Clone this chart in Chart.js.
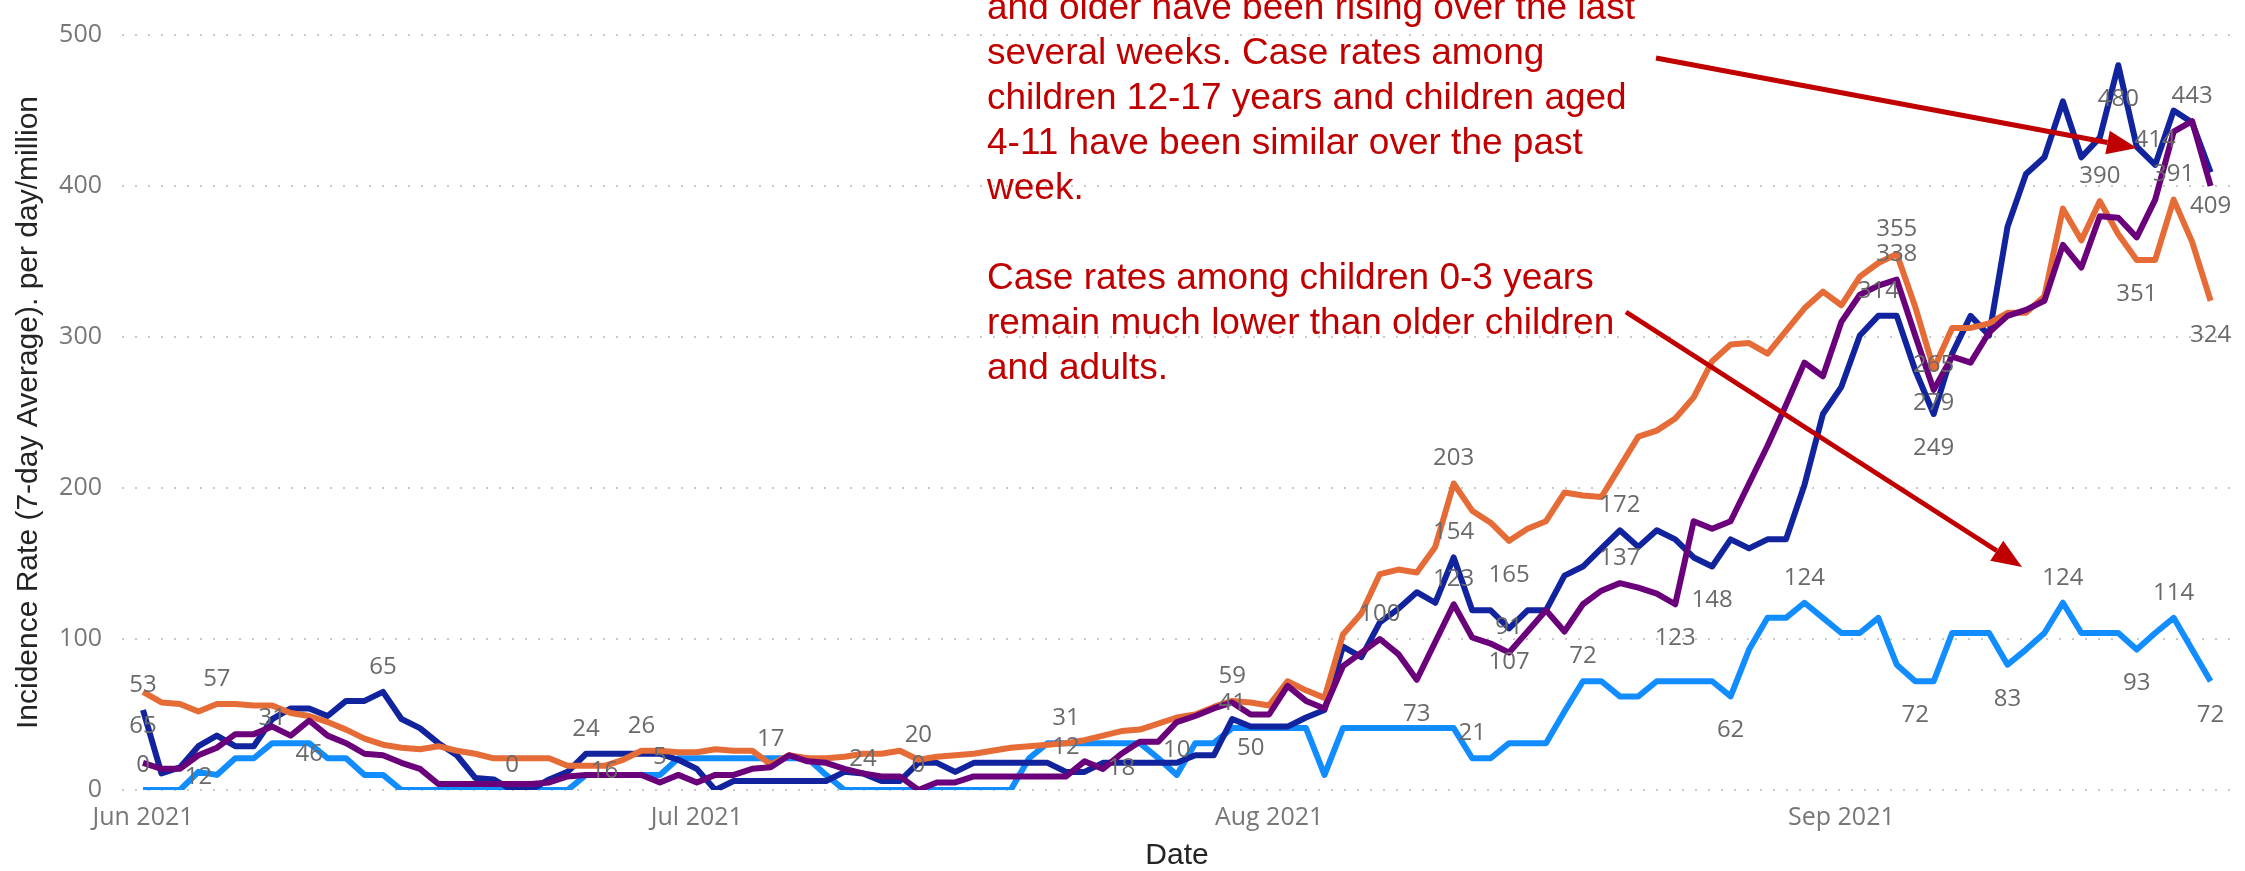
<!DOCTYPE html>
<html>
<head>
<meta charset="utf-8">
<title>Incidence rate by age group</title>
<script src="https://cdn.jsdelivr.net/npm/chart.js@4.4.0/dist/chart.umd.min.js"></script>
<style>
  html, body { margin: 0; padding: 0; background: #fff; overflow: hidden; }
  #wrap { position: relative; width: 2245px; height: 871px; }
  #note {
    position: absolute; left: 987px; top: -16px;
    font: 37px/45px 'Liberation Sans', Arial, sans-serif;
    color: #C00000; white-space: nowrap;
  }
</style>
</head>
<body>
<div id="wrap">
  <canvas id="chart"></canvas>
  <div id="note">and older have been rising over the last<br>several weeks. Case rates among<br>children 12-17 years and children aged<br>4-11 have been similar over the past<br>week.<br><br>Case rates among children 0-3 years<br>remain much lower than older children<br>and adults.</div>
</div>
<script>
  'use strict';

  // ── Data (one value per day, 1 Jun 2021 .. 21 Sep 2021) ──────────

  var monthTickDays   = [0, 30, 61, 92];
  var monthTickLabels = ['Jun 2021', 'Jul 2021', 'Aug 2021', 'Sep 2021'];
  var yTicks = [0, 100, 200, 300, 400, 500];

  var age18plus = [
    65, 58, 57, 52, 57, 57, 56, 56, 51, 49,
    45, 40, 34, 30, 28, 27, 29, 26, 24, 21,
    21, 21, 21, 16, 16, 16, 20, 26, 26, 25,
    25, 27, 26, 26, 17, 23, 21, 21, 22, 24,
    24, 26, 20, 22, 23, 24, 26, 28, 29, 30,
    31, 33, 36, 39, 40, 44, 48, 50, 55, 59,
    58, 56, 72, 66, 61, 103, 117, 143, 146, 144,
    161, 203, 185, 177, 165, 173, 178, 197, 195, 194,
    214, 234, 238, 246, 260, 284, 295, 296, 289, 304,
    319, 330, 321, 340, 349, 355, 320, 279, 306, 306,
    309, 316, 316, 327, 385, 364, 390, 368, 351, 351,
    391, 363, 324
  ];

  var age12to17 = [
    53, 11, 15, 29, 36, 29, 29, 47, 54, 54,
    49, 59, 59, 65, 47, 41, 31, 23, 8, 7,
    0, 0, 7, 12, 24, 24, 24, 24, 24, 20,
    14, 0, 6, 6, 6, 6, 6, 6, 12, 11,
    6, 6, 18, 18, 12, 18, 18, 18, 18, 18,
    12, 12, 18, 18, 18, 18, 18, 23, 23, 47,
    42, 42, 42, 48, 53, 95, 88, 111, 120, 131,
    124, 154, 119, 119, 107, 119, 119, 142, 148, 160,
    172, 161, 172, 166, 154, 148, 166, 160, 166, 166,
    202, 249, 267, 301, 314, 314, 278, 249, 289, 314,
    301, 373, 408, 419, 456, 419, 432, 480, 426, 414,
    450, 442, 409
  ];

  var age4to11 = [
    18, 14, 14, 23, 28, 37, 37, 42, 36, 46,
    36, 31, 24, 23, 18, 14, 4, 4, 4, 4,
    4, 4, 5, 9, 10, 10, 10, 10, 5, 10,
    5, 10, 10, 14, 15, 23, 19, 18, 14, 11,
    9, 9, 0, 5, 5, 9, 9, 9, 9, 9,
    9, 19, 14, 24, 32, 32, 45, 49, 54, 58,
    50, 50, 69, 59, 54, 82, 91, 100, 90, 73,
    98, 123, 101, 97, 91, 105, 119, 105, 123, 132,
    137, 134, 130, 123, 178, 173, 178, 203, 228, 255,
    283, 274, 310, 328, 334, 338, 301, 265, 287, 283,
    303, 314, 318, 324, 361, 346, 380, 379, 366, 391,
    436, 443, 400
  ];

  var age0to3 = [
    0, 0, 0, 12, 10, 21, 21, 31, 31, 31,
    21, 21, 10, 10, 0, 0, 0, 0, 0, 0,
    0, 0, 0, 0, 10, 10, 10, 10, 10, 21,
    21, 21, 21, 21, 21, 21, 21, 10, 0, 0,
    0, 0, 0, 0, 0, 0, 0, 0, 21, 31,
    31, 31, 31, 31, 31, 21, 10, 31, 31, 41,
    41, 41, 41, 41, 10, 41, 41, 41, 41, 41,
    41, 41, 21, 21, 31, 31, 31, 52, 72, 72,
    62, 62, 72, 72, 72, 72, 62, 93, 114, 114,
    124, 114, 104, 104, 114, 83, 72, 72, 104, 104,
    104, 83, 93, 104, 124, 104, 104, 104, 93, 104,
    114, 93, 72
  ];

  // Data labels shown on the chart: series, day, placement (a=above, b=below, c=on line)
  var labelSeries = [
    '12-17', '18+', '0-3', '18+', '0-3', '0-3', '4-11', '12-17', '12-17', '12-17',
    '18+', '18+', '4-11', '18+', '18+', '18+', '4-11', '12-17', '18+', '12-17',
    '0-3', '18+', '0-3', '4-11', '4-11', '4-11', '18+', '12-17', '4-11', '0-3',
    '18+', '4-11', '12-17', '0-3', '4-11', '12-17', '4-11', '12-17', '0-3', '0-3',
    '12-17', '18+', '4-11', '0-3', '4-11', '18+', '12-17', '0-3', '0-3', '18+',
    '12-17', '18+', '0-3', '12-17', '18+', '0-3', '4-11', '12-17', '18+', '0-3'
  ];
  var labelDays = [
    0, 0, 0, 4, 3, 7, 9, 13, 20, 24,
    25, 27, 28, 34, 39, 42, 42, 50, 50, 53,
    56, 59, 59, 60, 67, 69, 71, 71, 71, 72,
    74, 74, 74, 78, 80, 80, 83, 85, 86, 90,
    94, 95, 95, 96, 97, 97, 97, 101, 104, 106,
    107, 108, 108, 109, 110, 110, 111, 112, 112, 112
  ];
  var labelPlaces = [
    'a', 'b', 'a', 'a', 'c', 'a', 'b', 'a', 'a', 'a',
    'c', 'a', 'a', 'a', 'c', 'a', 'a', 'a', 'a', 'c',
    'a', 'a', 'a', 'b', 'a', 'b', 'a', 'a', 'a', 'a',
    'b', 'a', 'b', 'a', 'a', 'a', 'b', 'b', 'b', 'a',
    'a', 'a', 'a', 'b', 'a', 'b', 'b', 'b', 'a', 'a',
    'b', 'b', 'b', 'a', 'a', 'a', 'a', 'b', 'b', 'b'
  ];

  // ── Styles ────────────────────────────────────────────────────────

  var ORANGE = '#E66C37';
  var NAVY   = '#12239E';
  var PURPLE = '#6B007B';
  var SKY    = '#118DFF';
  var NOTE_RED = '#C00000';

  var TICK_FONT  = { family: "'Segoe UI', 'Open Sans', sans-serif", size: 25 };
  var LABEL_FONT = "24px 'Segoe UI', 'Open Sans', sans-serif";
  var TITLE_FONT = { family: "DIN, 'Liberation Sans', Arial, sans-serif", size: 30, lineHeight: 1 };
  var PLACE_OFFSET = { a: -25, b: 34, c: 5 };

  var seriesByName = { '18+': age18plus, '12-17': age12to17, '4-11': age4to11, '0-3': age0to3 };

  var days = age18plus.map(function (v, i) { return i; });

  // ── Plugins ───────────────────────────────────────────────────────

  var pointLabels = {
    id: 'pointLabels',
    afterDatasetsDraw: function (chart) {
      var ctx = chart.ctx;
      var xs = chart.scales.x, ys = chart.scales.y;
      ctx.save();
      ctx.font = LABEL_FONT;
      ctx.fillStyle = '#6a6a6a';
      ctx.textAlign = 'center';
      ctx.textBaseline = 'middle';
      for (var k = 0; k < labelDays.length; k++) {
        var v = seriesByName[labelSeries[k]][labelDays[k]];
        var px = xs.getPixelForValue(labelDays[k]);
        var py = ys.getPixelForValue(v) + PLACE_OFFSET[labelPlaces[k]];
        ctx.fillText(String(Math.round(v)), px, py);
      }
      ctx.restore();
    }
  };

  function drawArrow(ctx, x1, y1, x2, y2) {
    var ang = Math.atan2(y2 - y1, x2 - x1);
    var head = 30, half = 12;
    var bx = x2 - head * Math.cos(ang), by = y2 - head * Math.sin(ang);
    ctx.beginPath();
    ctx.moveTo(x1, y1);
    ctx.lineTo(bx, by);
    ctx.stroke();
    ctx.beginPath();
    ctx.moveTo(x2, y2);
    ctx.lineTo(bx + half * Math.sin(ang), by - half * Math.cos(ang));
    ctx.lineTo(bx - half * Math.sin(ang), by + half * Math.cos(ang));
    ctx.closePath();
    ctx.fill();
  }

  var noteArrows = {
    id: 'noteArrows',
    afterDraw: function (chart) {
      var ctx = chart.ctx;
      ctx.save();
      ctx.strokeStyle = NOTE_RED;
      ctx.fillStyle = NOTE_RED;
      ctx.lineWidth = 5;
      drawArrow(ctx, 1656, 58, 2137, 148);
      drawArrow(ctx, 1626, 312, 2022, 567);
      ctx.restore();
    }
  };

  // ── Chart ─────────────────────────────────────────────────────────

  function lineSet(label, data, color, order) {
    return {
      label: label,
      data: data,
      borderColor: color,
      backgroundColor: color,
      borderWidth: 6,
      borderJoinStyle: 'round',
      pointRadius: 0,
      tension: 0,
      fill: false,
      order: order
    };
  }

  new Chart(document.getElementById('chart'), {
    type: 'line',
    data: {
      labels: days,
      datasets: [
        lineSet('0-3', age0to3, SKY, 4),
        lineSet('12-17', age12to17, NAVY, 3),
        lineSet('18+', age18plus, ORANGE, 2),
        lineSet('4-11', age4to11, PURPLE, 1)
      ]
    },
    options: {
      responsive: true,
      maintainAspectRatio: false,
      animation: false,
      layout: { padding: { top: 19.5, right: 13, left: 0, bottom: 0 } },
      plugins: {
        legend: { display: false },
        tooltip: { enabled: false }
      },
      scales: {
        x: {
          type: 'linear',
          min: -1.138,
          max: 113.16,
          afterBuildTicks: function (scale) {
            scale.ticks = monthTickDays.map(function (d) { return { value: d }; });
          },
          afterFit: function (scale) { scale.height = 81; },
          ticks: {
            autoSkip: false, maxRotation: 0, padding: 13,
            color: '#777', font: TICK_FONT,
            callback: function (v) {
              var k = monthTickDays.indexOf(v);
              return k >= 0 ? monthTickLabels[k] : '';
            }
          },
          grid: { display: false, drawTicks: false },
          border: { display: false },
          title: {
            display: true, text: 'Date', color: '#252423',
            font: TITLE_FONT, padding: { top: 0, bottom: 0 }
          }
        },
        y: {
          min: 0,
          max: 500,
          afterBuildTicks: function (scale) {
            scale.ticks = yTicks.map(function (v) { return { value: v }; });
          },
          afterFit: function (scale) { scale.width = 122; },
          ticks: { padding: 20, color: '#777', font: TICK_FONT },
          grid: { color: '#c9c9c9', lineWidth: 2, drawTicks: false },
          border: { display: false, dash: [2, 11] },
          title: {
            display: true, text: 'Incidence Rate (7-day Average). per day/million',
            color: '#252423', font: TITLE_FONT, padding: { top: 14, bottom: 0 }
          }
        }
      }
    },
    plugins: [pointLabels, noteArrows]
  });
</script>
</body>
</html>
